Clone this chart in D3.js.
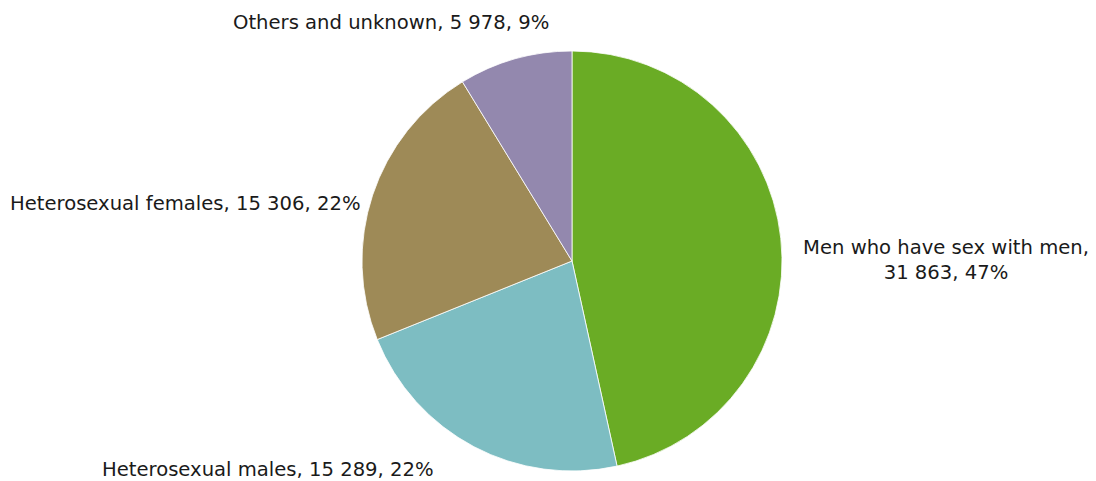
<!DOCTYPE html>
<html>
<head>
<meta charset="utf-8">
<script src="https://cdn.jsdelivr.net/npm/d3@7"></script>
<style>
  body { margin: 0; background: #fff; }
  text { font-family: "DejaVu Sans", sans-serif; font-size: 19.6px; fill: #1a1a1a; }
</style>
</head>
<body>
<script>
const width = 1096;
const height = 481;

// data
const categories = ["Men who have sex with men", "Heterosexual males", "Heterosexual females", "Others and unknown"];
const counts = [31863, 15289, 15306, 5978];
const percents = ["47%", "22%", "22%", "9%"];
const colors = ["#6aac25", "#7dbdc2", "#9e8a57", "#9388ae"];

const cx = 572, cy = 261, radius = 210;

const svg = d3.select("body").append("svg")
    .attr("width", width)
    .attr("height", height);

const pie = d3.pie().sort(null).value(d => d);
const arc = d3.arc().innerRadius(0).outerRadius(radius);

const g = svg.append("g").attr("transform", "translate(" + cx + "," + cy + ")");

g.selectAll("path")
    .data(pie(counts))
    .enter()
    .append("path")
    .attr("d", arc)
    .style("fill", (d, i) => colors[i])
    .style("stroke", "#fff")
    .style("stroke-width", 0.8);

// number with space as thousands separator
const fmt = n => d3.format(",")(n).replace(/,/g, " ");

// label placement (hand placed like in the original)
const labels = [
    { x: 946, y: 254, anchor: "middle", lines: [categories[0] + ",", fmt(counts[0]) + ", " + percents[0]] },
    { x: 102, y: 476, anchor: "start", lines: [categories[1] + ", " + fmt(counts[1]) + ", " + percents[1]] },
    { x: 10, y: 210, anchor: "start", lines: [categories[2] + ", " + fmt(counts[2]) + ", " + percents[2]] },
    { x: 233, y: 29, anchor: "start", lines: [categories[3] + ", " + fmt(counts[3]) + ", " + percents[3]] }
];

labels.forEach(l => {
    const t = svg.append("text")
        .attr("x", l.x)
        .attr("y", l.y)
        .attr("text-anchor", l.anchor);
    l.lines.forEach((line, i) => {
        t.append("tspan")
            .attr("x", l.x)
            .attr("dy", i === 0 ? 0 : 25)
            .text(line);
    });
});
</script>
</body>
</html>
